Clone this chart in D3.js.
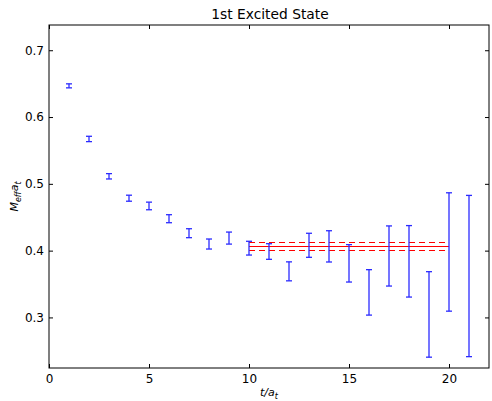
<!DOCTYPE html>
<html>
<head>
<meta charset="utf-8">
<script src="https://cdn.jsdelivr.net/npm/d3@7"></script>
<style>
  body { margin: 0; background: #fff; }
  svg text { font-family: "DejaVu Sans", sans-serif; }
</style>
</head>
<body>
<div id="chart"></div>
<script>
// effective mass points: t, value, error
var tValues = [1, 2, 3, 4, 5, 6, 7, 8, 9, 10, 11, 12, 13, 14, 15, 16, 17, 18, 19, 20, 21];
var meff = [0.6467, 0.5672, 0.5113, 0.4785, 0.4669, 0.4478, 0.4261, 0.4099, 0.4188,
            0.4037, 0.3987, 0.3690, 0.4080, 0.4064, 0.3810, 0.3375, 0.3920, 0.3840, 0.3045, 0.3980, 0.3620];
var meffErr = [0.003, 0.004, 0.004, 0.0045, 0.0057, 0.006, 0.0067, 0.0075, 0.009,
               0.0103, 0.0117, 0.0142, 0.018, 0.0234, 0.028, 0.034, 0.045, 0.0535, 0.064, 0.0886, 0.1207];

// plateau fit
var fitRange = [10, 20];
var fitValue = 0.4075;
var fitErr = 0.006;

var xTicks = [0, 5, 10, 15, 20];
var yTicks = [0.3, 0.4, 0.5, 0.6, 0.7];

var W = 492, H = 401;
var margin = { top: 25, right: 3, bottom: 33, left: 49 };
var width = 440, height = 343;

var svg = d3.select("#chart").append("svg")
    .attr("width", W)
    .attr("height", H);

var g = svg.append("g")
    .attr("transform", "translate(" + margin.left + "," + margin.top + ")");

var x = d3.scaleLinear().domain([0, 22]).range([0, width]);
var y = d3.scaleLinear().domain([0.2243, 0.7378]).range([height, 0]);

// fit lines
var fitLines = [
  { v: fitValue, dash: null },
  { v: fitValue + fitErr, dash: "6,4" },
  { v: fitValue - fitErr, dash: "6,4" }
];
g.selectAll(".fit")
    .data(fitLines)
    .enter().append("line")
    .attr("x1", x(fitRange[0]))
    .attr("x2", x(fitRange[1]))
    .attr("y1", function(d) { return Math.round(y(d.v)) + 0.5; })
    .attr("y2", function(d) { return Math.round(y(d.v)) + 0.5; })
    .attr("stroke", "#ff0000")
    .attr("stroke-width", 1.2)
    .attr("stroke-dasharray", function(d) { return d.dash; });

// error bars
var pts = tValues.map(function(t, i) { return { t: t, v: meff[i], e: meffErr[i] }; });
var bars = g.selectAll(".bar")
    .data(pts)
    .enter().append("g")
    .attr("stroke", "#2b2bff")
    .attr("stroke-width", 1.3);

bars.append("line")
    .attr("x1", function(d) { return x(d.t); })
    .attr("x2", function(d) { return x(d.t); })
    .attr("y1", function(d) { return y(d.v + d.e); })
    .attr("y2", function(d) { return y(d.v - d.e); });
bars.append("line")
    .attr("x1", function(d) { return x(d.t) - 3; })
    .attr("x2", function(d) { return x(d.t) + 3; })
    .attr("y1", function(d) { return y(d.v + d.e); })
    .attr("y2", function(d) { return y(d.v + d.e); });
bars.append("line")
    .attr("x1", function(d) { return x(d.t) - 3; })
    .attr("x2", function(d) { return x(d.t) + 3; })
    .attr("y1", function(d) { return y(d.v - d.e); })
    .attr("y2", function(d) { return y(d.v - d.e); });

// axes, ticks pointing inwards on all four sides
function styleAxis(sel) {
  sel.select(".domain").remove();
  sel.selectAll("line").attr("stroke", "#000");
  sel.selectAll("text").attr("font-size", "12px").attr("fill", "#000");
}
g.append("g")
    .attr("transform", "translate(0," + height + ")")
    .call(d3.axisBottom(x).tickValues(xTicks).tickSize(-4).tickPadding(6).tickFormat(d3.format("d")))
    .call(styleAxis);
g.append("g")
    .call(d3.axisTop(x).tickValues(xTicks).tickSize(-4).tickFormat(""))
    .call(styleAxis);
g.append("g")
    .call(d3.axisLeft(y).tickValues(yTicks).tickSize(-4).tickPadding(5).tickFormat(d3.format(".1f")))
    .call(styleAxis);
g.append("g")
    .attr("transform", "translate(" + width + ",0)")
    .call(d3.axisRight(y).tickValues(yTicks).tickSize(-4).tickFormat(""))
    .call(styleAxis);

g.append("rect")
    .attr("width", width)
    .attr("height", height)
    .attr("fill", "none")
    .attr("stroke", "#000")
    .attr("stroke-width", 1);

// title and axis labels
svg.append("text")
    .attr("x", margin.left + width / 2 + 1)
    .attr("y", 19)
    .attr("text-anchor", "middle")
    .attr("font-size", "13.8px")
    .text("1st Excited State");

var xl = svg.append("text")
    .attr("x", margin.left + width / 2)
    .attr("y", 396)
    .attr("text-anchor", "middle")
    .attr("font-family", "DejaVu Serif, serif")
    .attr("font-style", "italic")
    .attr("font-size", "11px");
xl.append("tspan").text("t/a");
xl.append("tspan").attr("dy", 3).attr("font-size", "8px").text("t");

var yl = svg.append("text")
    .attr("transform", "translate(18," + (margin.top + height / 2) + ") rotate(-90)")
    .attr("text-anchor", "middle")
    .attr("font-family", "DejaVu Serif, serif")
    .attr("font-style", "italic")
    .attr("font-size", "11px");
yl.append("tspan").text("M");
yl.append("tspan").attr("dy", 3).attr("font-size", "8px").text("eff");
yl.append("tspan").attr("dy", -3).text("a");
yl.append("tspan").attr("dy", 3).attr("font-size", "8px").text("t");
</script>
</body>
</html>
